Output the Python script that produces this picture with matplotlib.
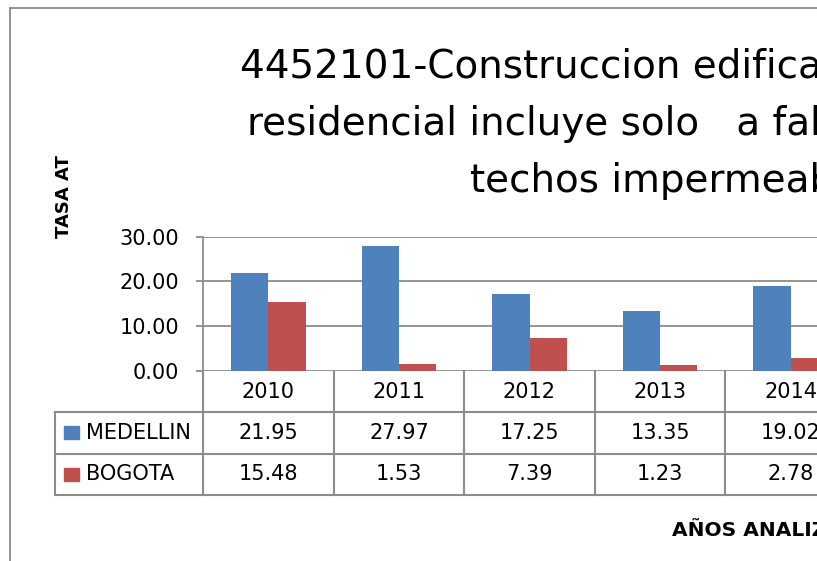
import matplotlib.pyplot as plt
from matplotlib.patches import Rectangle
from matplotlib.transforms import blended_transform_factory
import numpy as np

years = ['2010', '2011', '2012', '2013', '2014']
medellin = [21.95, 27.97, 17.25, 13.35, 19.02]
bogota = [15.48, 1.53, 7.39, 1.23, 2.78]
series = [('MEDELLIN', medellin, '#4F81BD'), ('BOGOTA', bogota, '#C0504D')]
title_lines = ['4452101-Construccion edificaciones no',
               'residencial incluye solo   a fabricacion de',
               'techos impermeables']

W, H = 817, 561
plt.rcParams['font.family'] = 'DejaVu Sans'
fig = plt.figure(figsize=(W / 100, H / 100), dpi=100)

def fx(px):
    return px / W

def fy(py):
    return 1 - py / H

grid_c = '#8c8c8c'
fs = 15

# outer chart border (runs past the crop)
fig.patches.append(Rectangle((fx(10), fy(1200)), 2.0, fy(8) - fy(1200),
                             transform=fig.transFigure, fill=False,
                             edgecolor='#8a8a8a', lw=1.3))

# plot area
x0, y0, ytop = 203, 370.7, 236.7
cw = 130.6
ax = fig.add_axes([fx(x0), fy(y0), fx(cw * len(years)), (y0 - ytop) / H])
ax.set_xlim(-0.5, len(years) - 0.5)
ax.set_ylim(0, 30)

x = np.arange(len(years))
bw = 1 / 3.5
for i, (name, vals, col) in enumerate(series):
    ax.bar(x + (i - 0.5) * bw, vals, bw, color=col, zorder=3)

ax.set_yticks([0, 10, 20, 30])
ax.set_yticklabels(['%.2f' % v for v in [0, 10, 20, 30]], fontsize=fs)
ax.tick_params(axis='y', length=5, width=1.3, color=grid_c, pad=12)
ax.set_xticks([])
ax.yaxis.grid(True, color=grid_c, lw=1.3, zorder=0)
for s in ['top', 'right', 'bottom']:
    ax.spines[s].set_visible(False)
ax.spines['left'].set_color(grid_c)
ax.spines['left'].set_linewidth(1.3)

# data table under the axis
tr = blended_transform_factory(ax.transData, ax.transAxes)
ph = y0 - ytop

def ay(py):
    return (y0 - py) / ph

rows = [371, 412, 453.5, 495]
left = -0.5 - (x0 - 55) / cw
right = len(years) + 2
for r in rows[1:]:
    ax.plot([left, right], [ay(r)] * 2, color=grid_c, lw=1.5,
            transform=tr, clip_on=False)
ax.plot([left, left], [ay(rows[1]), ay(rows[3])], color=grid_c, lw=1.5,
        transform=tr, clip_on=False)
for k in range(len(years) + 1):
    ax.plot([k - 0.5] * 2, [ay(rows[0]), ay(rows[3])], color=grid_c, lw=1.5,
            transform=tr, clip_on=False)

for k, yr in enumerate(years):
    ax.text(k, ay((rows[0] + rows[1]) / 2), yr, ha='center', va='center',
            fontsize=fs, transform=tr)
for i, (name, vals, col) in enumerate(series):
    yc = (rows[i + 1] + rows[i + 2]) / 2
    for k, v in enumerate(vals):
        ax.text(k, ay(yc), '%.2f' % v, ha='center', va='center',
                fontsize=fs, transform=tr)
    fig.patches.append(Rectangle((fx(64), fy(yc + 6.5)), fx(15), 13 / H,
                                 transform=fig.transFigure, color=col))
    fig.text(fx(86), fy(yc), name, ha='left', va='center', fontsize=fs)

# title
for line, px, py in zip(title_lines, [240, 247, 470], [78, 135, 192]):
    fig.text(fx(px), fy(py), line, ha='left', va='baseline', fontsize=28)

fig.text(fx(64), fy(197), 'TASA AT', rotation=90, ha='center', va='center',
         fontsize=13, fontweight='bold')
fig.text(fx(672), fy(530), 'AÑOS ANALIZADOS', ha='left', va='center',
         fontsize=14.5, fontweight='bold')

fig.savefig('out.png', dpi=100)
